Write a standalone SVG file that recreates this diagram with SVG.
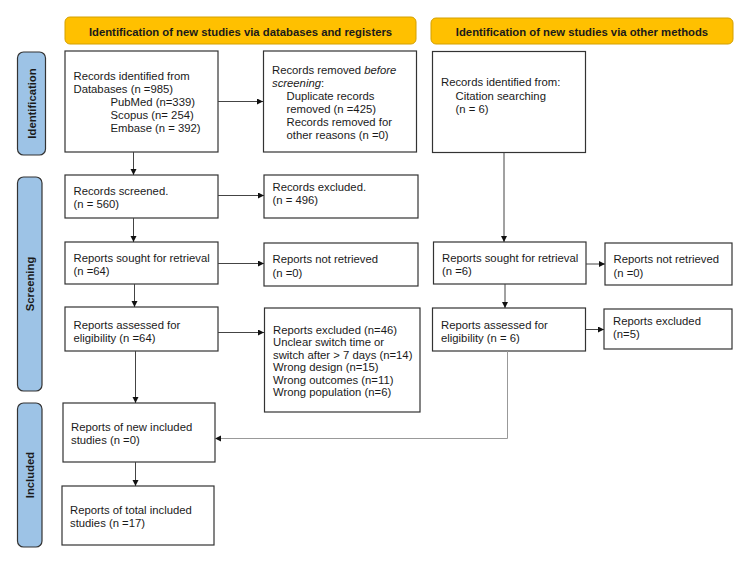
<svg xmlns="http://www.w3.org/2000/svg" width="750" height="571" viewBox="0 0 750 571">
<style>
text{font-family:"Liberation Sans",Arial,sans-serif;font-size:11.3px;fill:#1a1a1a}
.hd{fill:#FFC000;stroke:#D4A000;stroke-width:1}
.hdt{font-weight:bold;text-anchor:middle}
.sd{fill:#9DC3E6;stroke:#333;stroke-width:1.2}
.sdt{font-weight:bold;text-anchor:middle}
.bx{fill:#fff;stroke:#333;stroke-width:1.2}
.cn{fill:none;stroke:#444;stroke-width:1}
.cg{fill:none;stroke:#999;stroke-width:1}
</style>
<defs>
<marker id="ah" markerWidth="7" markerHeight="7" refX="6" refY="3" orient="auto" markerUnits="userSpaceOnUse">
<path d="M0,0 L6,3 L0,6 Z" fill="#111"/>
</marker>
</defs>
<rect width="750" height="571" fill="#fff"/>

<g id="header-databases"><rect class="hd" x="65" y="17" width="351" height="27" rx="5"/><text class="hdt" x="240.5" y="35.5">Identification of new studies via databases and registers</text></g>
<g id="header-other"><rect class="hd" x="431" y="18" width="302" height="26" rx="5"/><text class="hdt" x="582" y="35.5">Identification of new studies via other methods</text></g>

<g id="side-identification"><rect class="sd" x="17.5" y="52" width="28" height="103" rx="6"/><text class="sdt" transform="translate(35.5,103.5) rotate(-90)">Identification</text></g>
<g id="side-screening"><rect class="sd" x="17.5" y="177" width="24.5" height="214" rx="6"/><text class="sdt" transform="translate(34,284) rotate(-90)">Screening</text></g>
<g id="side-included"><rect class="sd" x="17.5" y="403" width="24.5" height="144" rx="6"/><text class="sdt" transform="translate(34,475) rotate(-90)">Included</text></g>

<g id="records-identified"><rect class="bx" x="65" y="51" width="153" height="101"/>
<text x="73.5" y="80">Records identified from</text>
<text x="73.5" y="93">Databases (n =985)</text>
<text x="110.5" y="106">PubMed (n=339)</text>
<text x="110.5" y="119">Scopus (n= 254)</text>
<text x="110.5" y="132">Embase (n = 392)</text></g>

<g id="records-removed"><rect class="bx" x="263.5" y="51" width="153" height="101"/>
<text x="272" y="74">Records removed <tspan font-style="italic">before</tspan></text>
<text x="272" y="87"><tspan font-style="italic">screening</tspan>:</text>
<text x="286.5" y="100">Duplicate records</text>
<text x="286.5" y="113">removed (n =425)</text>
<text x="286.5" y="126">Records removed for</text>
<text x="286.5" y="139">other reasons (n =0)</text></g>

<g id="citation-identified"><rect class="bx" x="432.5" y="51.5" width="153" height="101"/>
<text x="441" y="86">Records identified from:</text>
<text x="455.5" y="99.5">Citation searching</text>
<text x="455.5" y="113">(n = 6)</text></g>

<g id="records-screened"><rect class="bx" x="65" y="175" width="153" height="43"/>
<text x="73.5" y="195">Records screened.</text>
<text x="73.5" y="208">(n = 560)</text></g>

<g id="records-excluded"><rect class="bx" x="264" y="175" width="154" height="43"/>
<text x="272.5" y="191">Records excluded.</text>
<text x="272.5" y="203.5">(n = 496)</text></g>

<g id="reports-sought"><rect class="bx" x="65" y="242" width="153" height="42"/>
<text x="73.5" y="262">Reports sought for retrieval</text>
<text x="73.5" y="275">(n =64)</text></g>

<g id="reports-not-retrieved"><rect class="bx" x="264" y="243" width="154" height="43"/>
<text x="272.5" y="263">Reports not retrieved</text>
<text x="272.5" y="276.5">(n =0)</text></g>

<g id="other-sought"><rect class="bx" x="433.5" y="242" width="152.5" height="42"/>
<text x="442" y="262">Reports sought for retrieval</text>
<text x="442" y="275">(n =6)</text></g>

<g id="other-not-retrieved"><rect class="bx" x="605" y="243" width="127" height="42"/>
<text x="613.5" y="263">Reports not retrieved</text>
<text x="613.5" y="276.5">(n =0)</text></g>

<g id="reports-assessed"><rect class="bx" x="65" y="307" width="153" height="44"/>
<text x="73.5" y="329">Reports assessed for</text>
<text x="73.5" y="342">eligibility (n =64)</text></g>

<g id="reports-excluded"><rect class="bx" x="264.5" y="308" width="155.5" height="104"/>
<text x="273" y="333.5">Reports excluded (n=46)</text>
<text x="273" y="346">Unclear switch time or</text>
<text x="273" y="358.5">switch after &gt; 7 days (n=14)</text>
<text x="273" y="371">Wrong design (n=15)</text>
<text x="273" y="383.5">Wrong outcomes (n=11)</text>
<text x="273" y="396">Wrong population (n=6)</text></g>

<g id="other-assessed"><rect class="bx" x="432.5" y="308" width="153" height="43"/>
<text x="441" y="329">Reports assessed for</text>
<text x="441" y="342">eligibility (n = 6)</text></g>

<g id="other-excluded"><rect class="bx" x="604" y="309" width="128" height="40"/>
<text x="613" y="325">Reports excluded</text>
<text x="613" y="337.5">(n=5)</text></g>

<g id="new-included"><rect class="bx" x="63" y="403" width="152" height="59"/>
<text x="71" y="431">Reports of new included</text>
<text x="71" y="443.5">studies (n =0)</text></g>

<g id="total-included"><rect class="bx" x="62" y="486" width="152" height="59"/>
<text x="70" y="513.5">Reports of total included</text>
<text x="70" y="526.5">studies (n =17)</text></g>

<g id="connectors">
<line class="cn" x1="133.5" y1="152" x2="133.5" y2="175" marker-end="url(#ah)"/>
<line class="cn" x1="218" y1="101.5" x2="263" y2="101.5" marker-end="url(#ah)"/>
<line class="cn" x1="133.5" y1="218" x2="133.5" y2="242" marker-end="url(#ah)"/>
<line class="cn" x1="218" y1="195.5" x2="264" y2="195.5" marker-end="url(#ah)"/>
<line class="cn" x1="218" y1="263.5" x2="264" y2="263.5" marker-end="url(#ah)"/>
<line class="cn" x1="134.5" y1="284" x2="134.5" y2="307" marker-end="url(#ah)"/>
<line class="cn" x1="218" y1="332.5" x2="264" y2="332.5" marker-end="url(#ah)"/>
<line class="cn" x1="135.5" y1="351" x2="135.5" y2="403" marker-end="url(#ah)"/>
<line class="cn" x1="135.5" y1="462" x2="135.5" y2="486" marker-end="url(#ah)"/>
<line class="cn" x1="504" y1="152.5" x2="504" y2="242" marker-end="url(#ah)"/>
<line class="cn" x1="586" y1="264" x2="605" y2="264" marker-end="url(#ah)"/>
<line class="cn" x1="505" y1="284" x2="505" y2="308" marker-end="url(#ah)"/>
<line class="cn" x1="586" y1="329.5" x2="604" y2="329.5" marker-end="url(#ah)"/>
<polyline class="cg" points="507.5,351 507.5,438.5 215,438.5" marker-end="url(#ah)"/>
</g>
</svg>
